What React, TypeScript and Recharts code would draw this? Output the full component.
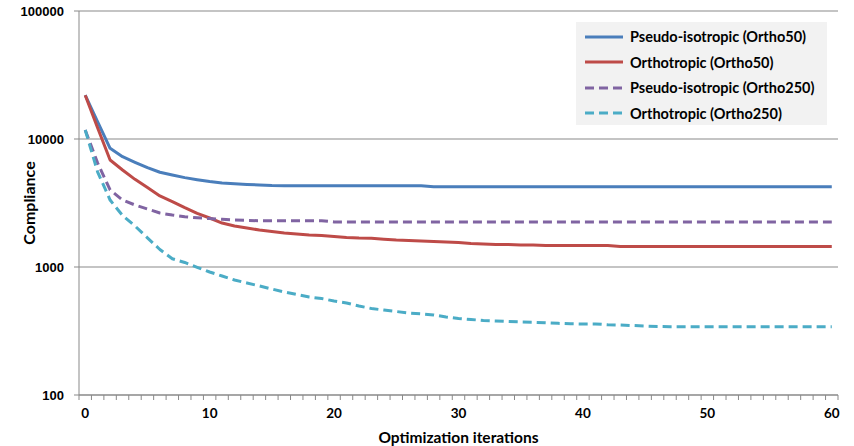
import React from 'react';
import { LineChart, Line, XAxis, YAxis, CartesianGrid, Legend } from 'recharts';

const iterations = [
  0, 1, 2, 3, 4, 5, 6, 7, 8, 9,
  10, 11, 12, 13, 14, 15, 16, 17, 18, 19,
  20, 21, 22, 23, 24, 25, 26, 27, 28, 29,
  30, 31, 32, 33, 34, 35, 36, 37, 38, 39,
  40, 41, 42, 43, 44, 45, 46, 47, 48, 49,
  50, 51, 52, 53, 54, 55, 56, 57, 58, 59,
  60,
];

const pseudoIso50 = [
  22000, 13600, 8460, 7280, 6580, 5970, 5500, 5230, 4990, 4810,
  4650, 4530, 4470, 4420, 4370, 4330, 4315, 4315, 4315, 4315,
  4315, 4315, 4315, 4315, 4315, 4315, 4315, 4315, 4240, 4240,
  4240, 4240, 4240, 4240, 4240, 4240, 4240, 4240, 4240, 4240,
  4240, 4240, 4240, 4240, 4240, 4240, 4240, 4240, 4240, 4240,
  4240, 4240, 4240, 4240, 4240, 4240, 4240, 4240, 4240, 4240,
  4240,
];

const ortho50 = [
  22000, 12200, 6850, 5730, 4840, 4170, 3590, 3240, 2905, 2625,
  2415, 2206, 2090, 2018, 1945, 1893, 1843, 1810, 1778, 1762,
  1730, 1700, 1685, 1680, 1650, 1625, 1610, 1597, 1580, 1567,
  1555, 1527, 1513, 1500, 1500, 1485, 1485, 1475, 1475, 1475,
  1475, 1475, 1475, 1445, 1445, 1445, 1445, 1445, 1445, 1445,
  1445, 1445, 1445, 1445, 1445, 1445, 1445, 1445, 1445, 1445,
  1445,
];

const pseudoIso250 = [
  11750, 6490, 4000, 3335, 3050, 2840, 2640, 2545, 2470, 2427,
  2390, 2360, 2330, 2310, 2300, 2300, 2300, 2300, 2300, 2300,
  2250, 2250, 2250, 2250, 2250, 2250, 2250, 2250, 2250, 2250,
  2250, 2250, 2250, 2250, 2250, 2250, 2250, 2250, 2250, 2250,
  2250, 2250, 2250, 2250, 2250, 2250, 2250, 2250, 2250, 2250,
  2250, 2250, 2250, 2250, 2250, 2250, 2250, 2250, 2250, 2250,
  2250,
];

const ortho250 = [
  11750, 5520, 3335, 2525, 2090, 1690, 1370, 1160, 1085, 995,
  914, 851, 791, 750, 711, 673, 638, 610, 583, 567,
  542, 523, 496, 474, 461, 449, 437, 430, 422, 407,
  396, 389, 382, 379, 375, 372, 370, 367, 363, 360,
  359, 359, 354, 352, 349, 346, 343, 342, 342, 342,
  342, 342, 342, 342, 342, 342, 342, 342, 342, 342,
  342,
];

const xTicks = [0, 10, 20, 30, 40, 50, 60];
const yTicks = [100, 1000, 10000, 100000];
const minorTicks = [
  -0.5, 0.5, 1.5, 2.5, 3.5, 4.5, 5.5, 6.5, 7.5, 8.5, 9.5,
  10.5, 11.5, 12.5, 13.5, 14.5, 15.5, 16.5, 17.5, 18.5, 19.5,
  20.5, 21.5, 22.5, 23.5, 24.5, 25.5, 26.5, 27.5, 28.5, 29.5,
  30.5, 31.5, 32.5, 33.5, 34.5, 35.5, 36.5, 37.5, 38.5, 39.5,
  40.5, 41.5, 42.5, 43.5, 44.5, 45.5, 46.5, 47.5, 48.5, 49.5,
  50.5, 51.5, 52.5, 53.5, 54.5, 55.5, 56.5, 57.5, 58.5, 59.5,
  60.5,
];

const series = [
  { key: 'pi50', name: 'Pseudo-isotropic (Ortho50)', color: '#4a7ebb', dash: undefined as string | undefined },
  { key: 'o50', name: 'Orthotropic (Ortho50)', color: '#be4b48', dash: undefined as string | undefined },
  { key: 'pi250', name: 'Pseudo-isotropic (Ortho250)', color: '#8064a2', dash: '9 5' },
  { key: 'o250', name: 'Orthotropic (Ortho250)', color: '#4bacc6', dash: '9 5' },
];

const data = iterations.map((it, i) => ({
  iter: it,
  pi50: pseudoIso50[i],
  o50: ortho50[i],
  pi250: pseudoIso250[i],
  o250: ortho250[i],
}));

const GRAY = '#898989';
const FONT = 'Lato, sans-serif';

const LegendBox = () => (
  <div
    style={{
      background: '#f2f2f2',
      width: 251,
      height: 103,
      boxSizing: 'border-box',
      padding: '2px 0 0 9px',
      fontFamily: FONT,
      fontWeight: 700,
      fontSize: 14.5,
      color: '#000',
    }}
  >
    {series.map((s) => (
      <div key={s.key} style={{ display: 'flex', alignItems: 'center', height: 25.5 }}>
        <svg width={38} height={6} style={{ display: 'block', flex: 'none' }}>
          <line x1={0} y1={3} x2={38} y2={3} stroke={s.color} strokeWidth={3} strokeDasharray={s.dash} />
        </svg>
        <span style={{ marginLeft: 7, whiteSpace: 'nowrap' }}>{s.name}</span>
      </div>
    ))}
  </div>
);

export default function App() {
  return (
    <div style={{ position: 'absolute', left: 0, top: 0 }}>
      <LineChart
        width={854}
        height={446}
        data={data}
        margin={{ top: 11, right: 16, bottom: 0, left: 0 }}
      >
        <CartesianGrid xAxisId="xa" yAxisId="y" vertical={false} stroke={GRAY} strokeWidth={1} />
        <XAxis
          xAxisId="xa"
          dataKey="iter"
          type="number"
          domain={[-0.5, 60.5]}
          ticks={minorTicks}
          interval={0}
          height={5}
          tickSize={5}
          axisLine={{ stroke: GRAY }}
          tickLine={{ stroke: GRAY }}
          tick={() => <g />}
        />
        <XAxis
          xAxisId="xb"
          dataKey="iter"
          type="number"
          domain={[-0.5, 60.5]}
          ticks={xTicks}
          interval={0}
          height={46}
          tickSize={0}
          tickMargin={8}
          axisLine={false}
          tickLine={false}
          tick={{ fill: '#000', fontFamily: FONT, fontWeight: 700, fontSize: 13.5 }}
          label={{
            value: 'Optimization iterations',
            position: 'insideBottom',
            offset: 3,
            fill: '#000',
            fontFamily: FONT,
            fontWeight: 700,
            fontSize: 15.5,
          }}
        />
        <YAxis
          yAxisId="y"
          scale="log"
          domain={[100, 100000]}
          allowDataOverflow
          ticks={yTicks}
          interval={0}
          width={79}
          tickSize={5}
          tickMargin={10}
          axisLine={{ stroke: GRAY }}
          tickLine={{ stroke: GRAY }}
          tickFormatter={(v: number) => String(v)}
          tick={{ fill: '#000', fontFamily: '"Liberation Sans", Arial, sans-serif', fontWeight: 700, fontSize: 13 }}
          label={{
            value: 'Compliance',
            angle: -90,
            position: 'insideLeft',
            offset: 29,
            textAnchor: 'middle',
            fill: '#000',
            fontFamily: FONT,
            fontWeight: 700,
            fontSize: 16,
          }}
        />
        {series.map((s) => (
          <Line
            key={s.key}
            xAxisId="xb"
            yAxisId="y"
            type="linear"
            dataKey={s.key}
            name={s.name}
            stroke={s.color}
            strokeWidth={3}
            strokeDasharray={s.dash}
            strokeLinejoin="round"
            dot={false}
            activeDot={false}
            isAnimationActive={false}
          />
        ))}
        <Legend
          layout="vertical"
          align="center"
          verticalAlign="middle"
          wrapperStyle={{ left: 576, top: 22, width: 251, height: 103 }}
          content={() => <LegendBox />}
        />
      </LineChart>
    </div>
  );
}
